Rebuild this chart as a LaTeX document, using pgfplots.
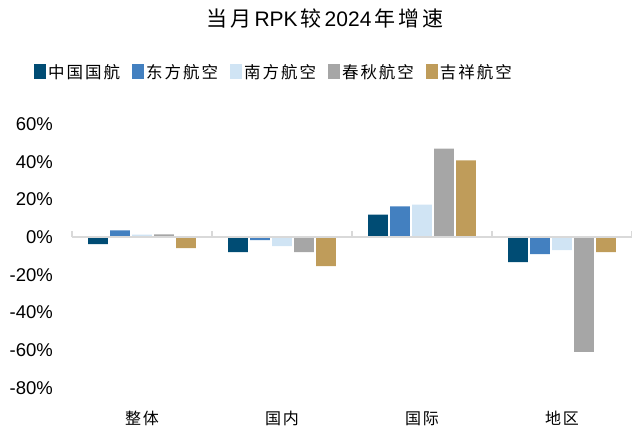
\documentclass[border=0pt]{standalone}
\usepackage{fontspec}
\setmainfont{Liberation Sans}
\newfontfamily\cjk{Noto Sans CJK SC}[LetterSpace=12]
\newfontfamily\cjkT{Noto Sans CJK SC}
\usepackage{pgfplots}
\pgfplotsset{compat=1.18}
\definecolor{c1}{RGB}{0,76,116}
\definecolor{c2}{RGB}{67,128,192}
\definecolor{c3}{RGB}{208,228,244}
\definecolor{c4}{RGB}{166,166,166}
\definecolor{c5}{RGB}{191,156,90}
\definecolor{zl}{RGB}{217,217,217}
\newcommand{\tc}[1]{{\cjkT #1}\hspace{3pt}}
\begin{document}
\begin{tikzpicture}
\useasboundingbox (-72pt,-38pt) rectangle (560pt,388pt);
\begin{axis}[
  at={(0pt,0pt)}, anchor=south west,
  scale only axis, width=560pt, height=264pt,
  xmin=-0.5, xmax=3.5, ymin=-80, ymax=60,
  axis line style={draw=none}, tick style={draw=none},
  xtick={0,1,2,3}, xticklabels={整体,国内,国际,地区},
  xticklabel style={font=\cjk\fontsize{16}{16}\selectfont, anchor=north, inner sep=0pt, yshift=-19pt},
  ytick={-80,-60,...,60},
  yticklabel={\pgfmathprintnumber{\tick}\%},
  /pgf/number format/assume math mode=true,
  yticklabel style={font=\fontsize{18.5}{18.5}\selectfont, anchor=east, inner sep=0pt, xshift=-19pt},
  ybar, bar width=0.14,
  legend columns=5,
  legend style={draw=none, anchor=west, at={(-0.0732,1.197)},
    font=\cjk\fontsize{16.5}{16.5}\selectfont,
    /tikz/every even column/.append style={column sep=10pt}},
  legend image code/.code={\fill[#1] (0pt,-7.5pt) rectangle (12pt,7.5pt);},
  clip=false,
]
\addplot[fill=c1, draw=none, bar shift=-0.314] coordinates {(0,-3.7) (1,-8.0) (2,12.0) (3,-13.3)};
\addplot[fill=c2, draw=none, bar shift=-0.157] coordinates {(0,3.6) (1,-1.6) (2,16.3) (3,-9.0)};
\addplot[fill=c3, draw=none, bar shift=0] coordinates {(0,1.3) (1,-4.8) (2,17.3) (3,-6.9)};
\addplot[fill=c4, draw=none, bar shift=0.157] coordinates {(0,1.5) (1,-8.0) (2,47.0) (3,-60.8)};
\addplot[fill=c5, draw=none, bar shift=0.314] coordinates {(0,-5.8) (1,-15.4) (2,40.7) (3,-8.0)};
\legend{中国国航,东方航空,南方航空,春秋航空,吉祥航空}
\draw[zl, line width=2pt] (axis cs:-0.5,0) -- (axis cs:3.5,0);
\pgfplotsinvokeforeach{-0.5,0.5,1.5,2.5,3.5}{\draw[zl, line width=1.5pt] (axis cs:#1,0) -- ([yshift=6pt]axis cs:#1,0);}
\end{axis}
\node[font=\fontsize{21}{21}\selectfont, inner sep=0pt] at (253pt,370pt) {\tc{当}\tc{月}RPK\hspace{3pt}\tc{较}2024\hspace{3pt}\tc{年}\tc{增}{\cjkT 速}};
\end{tikzpicture}
\end{document}
